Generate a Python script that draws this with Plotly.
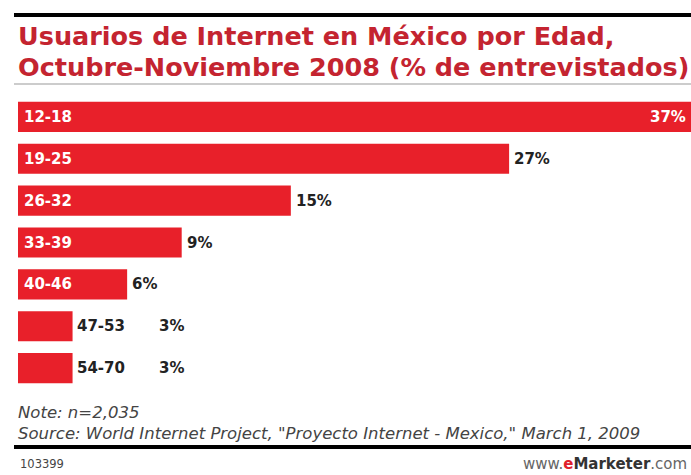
import plotly.graph_objects as go

categories = ["12-18", "19-25", "26-32", "33-39", "40-46", "47-53", "54-70"]
values = [37, 27, 15, 9, 6, 3, 3]
value_labels = ["37%", "27%", "15%", "9%", "6%", "3%", "3%"]

W, H = 691, 475
BAR = "#e8202a"
TITLE = "#c42430"
LBL = "DejaVu Sans"

def px(x):
    return x / W

def py(y):
    return 1 - y / H

fig = go.Figure()
fig.add_trace(go.Bar(
    x=values, y=categories, orientation="h",
    marker=dict(color=BAR, line=dict(width=0)),
    hoverinfo="skip",
))

ann = []
lf_white = dict(family=LBL, size=15, color="white", weight="bold")
lf_dark = dict(family=LBL, size=15, color="#222", weight="bold")
for c, v, t in zip(categories, values, value_labels):
    if v >= 5:
        ann.append(dict(x=0, y=c, xref="x", yref="y", text=c, showarrow=False,
                        xanchor="left", xshift=4, font=lf_white))
        if v == max(values):
            ann.append(dict(x=v, y=c, xref="x", yref="y", text=t, showarrow=False,
                            xanchor="right", xshift=-3, font=lf_white))
        else:
            ann.append(dict(x=v, y=c, xref="x", yref="y", text=t, showarrow=False,
                            xanchor="left", xshift=3, font=lf_dark))
    else:
        ann.append(dict(x=v, y=c, xref="x", yref="y", text=c, showarrow=False,
                        xanchor="left", xshift=2, font=lf_dark))
        ann.append(dict(x=v, y=c, xref="x", yref="y", text=t, showarrow=False,
                        xanchor="left", xshift=84, font=lf_dark))

# title
tf = dict(family="DejaVu Sans", size=25.5, color=TITLE, weight="bold")
ann.append(dict(x=px(16), y=py(35.5), xref="paper", yref="paper", showarrow=False,
                xanchor="left", yanchor="middle",
                text="Usuarios de Internet en México por Edad,", font=tf))
ann.append(dict(x=px(16), y=py(67), xref="paper", yref="paper", showarrow=False,
                xanchor="left", yanchor="middle",
                text="Octubre-Noviembre 2008 (% de entrevistados)", font=tf))
# footer
ff = dict(family="DejaVu Sans", size=16.5, color="#444")
ann.append(dict(x=px(16), y=py(423), xref="paper", yref="paper", showarrow=False,
                xanchor="left", yanchor="middle", align="left",
                text="<i>Note: n=2,035</i><br><i>Source: World Internet Project, \"Proyecto Internet - Mexico,\" March 1, 2009</i>",
                font=ff))
ann.append(dict(x=px(18), y=py(464), xref="paper", yref="paper", showarrow=False,
                xanchor="left", yanchor="middle", text="103399",
                font=dict(family="DejaVu Sans", size=11.5, color="#444")))
ann.append(dict(x=px(689), y=py(464), xref="paper", yref="paper", showarrow=False,
                xanchor="right", yanchor="middle",
                text="www.<span style='color:#e0202a'><b>e</b></span><b style='color:#333'>Marketer</b>.com",
                font=dict(family="DejaVu Sans", size=15, color="#666")))

shapes = [
    dict(type="line", xref="paper", yref="paper", x0=px(14), x1=1, y0=py(15), y1=py(15),
         line=dict(color="black", width=4)),
    dict(type="line", xref="paper", yref="paper", x0=px(14), x1=1, y0=py(84), y1=py(84),
         line=dict(color="#999", width=1)),
    dict(type="line", xref="paper", yref="paper", x0=px(14), x1=1, y0=py(447), y1=py(447),
         line=dict(color="black", width=4)),
]

fig.update_layout(
    width=W, height=H,
    margin=dict(l=0, r=0, t=0, b=0),
    paper_bgcolor="white", plot_bgcolor="white",
    showlegend=False,
    bargap=0.28,
    xaxis=dict(domain=[px(18), 1], range=[0, 37], visible=False, fixedrange=True),
    yaxis=dict(domain=[py(389), py(96)], categoryorder="array", categoryarray=categories,
               autorange="reversed", visible=False, fixedrange=True),
    annotations=ann,
    shapes=shapes,
)

fig.write_html("out.html", config={"displayModeBar": False})
